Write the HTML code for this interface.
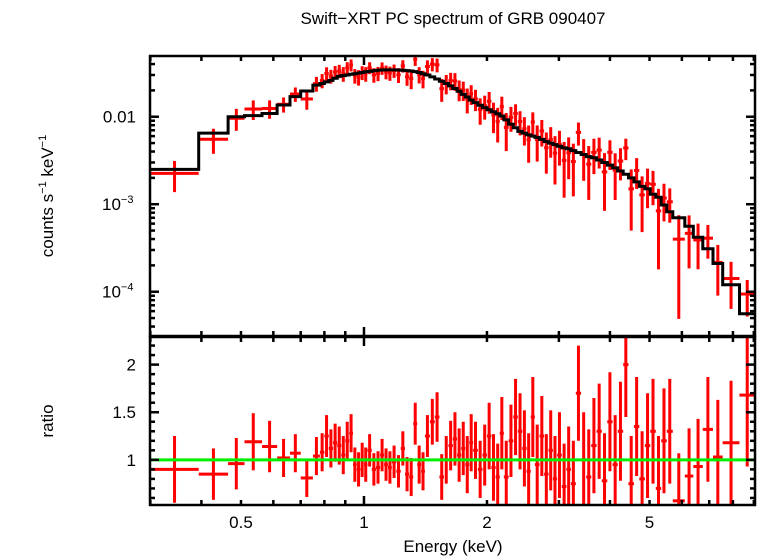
<!DOCTYPE html>
<html><head><meta charset="utf-8"><style>
html,body{margin:0;padding:0;background:#fff;}
svg{display:block;font-family:"Liberation Sans",sans-serif;}
</style></head><body>
<svg id="chart" width="758" height="556" viewBox="0 0 758 556" xmlns="http://www.w3.org/2000/svg">
<defs>
<clipPath id="clipTop"><rect x="150" y="56" width="605" height="280"/></clipPath>
<clipPath id="clipBot"><rect x="150" y="337" width="605" height="168"/></clipPath>
</defs>
<text x="453" y="24" font-size="17" text-anchor="middle">Swift−XRT PC spectrum of GRB 090407</text>
<text transform="translate(53,196) rotate(-90)" font-size="17" text-anchor="middle">counts s<tspan font-size="11" dy="-7">−1</tspan><tspan dy="7"> keV</tspan><tspan font-size="11" dy="-7">−1</tspan></text>
<text transform="translate(53,421) rotate(-90)" font-size="17" text-anchor="middle">ratio</text>
<text x="453" y="552" font-size="17" text-anchor="middle">Energy (keV)</text>
<g id="gTop" clip-path="url(#clipTop)"></g>
<g id="gBot" clip-path="url(#clipBot)"></g>
<g id="gAxes"></g>
</svg>
<script>
// bin edges (keV)
const binEdges = [0.30,0.394,0.465,0.51,0.563,0.613,0.659,0.70,0.75,
0.78,0.80,0.82,0.84,0.86,0.88,0.90,0.92,0.94,0.96,0.98,
1.00,1.02,1.045,1.07,1.095,1.12,1.145,1.17,1.20,
1.23,1.26,1.29,1.32,1.35,1.38,1.41,1.45,1.49,1.53,
1.57,1.61,1.65,1.69,1.73,1.77,1.81,1.85,1.90,1.95,
2.00,2.05,2.10,2.15,2.20,2.26,2.32,2.38,2.44,2.50,
2.56,2.62,2.69,2.76,2.83,2.90,2.97,3.05,3.13,3.21,
3.30,3.40,3.50,3.60,3.71,3.82,3.94,4.06,4.18,4.31,
4.44,4.58,4.72,4.87,5.02,5.18,5.34,5.51,5.70,
6.10,6.40,6.75,7.15,7.55,8.30,9.06];
// model counts per bin (counts/s/keV)
const modelValues = [0.0025,0.0065,0.0100,0.0103,0.0109,0.0136,0.017,0.0197,0.023,
0.024,0.025,0.026,0.0275,0.029,0.0295,0.030,0.0305,0.031,0.0315,0.032,
0.0326,0.033,0.0335,0.034,0.0342,0.0343,0.0343,0.0343,0.0342,
0.034,0.0337,0.0333,0.0328,0.032,0.031,0.030,0.0285,0.027,0.0255,
0.024,0.0225,0.021,0.0195,0.018,0.0168,0.0155,0.0145,0.0135,0.0127,
0.012,0.0114,0.0108,0.0102,0.0092,0.0082,0.0075,0.0068,0.0065,0.0062,
0.0060,0.0058,0.0055,0.0052,0.0050,0.0048,0.0046,0.0044,0.0043,0.0041,
0.0039,0.0037,0.0035,0.0034,0.0032,0.0030,0.0028,0.0026,0.0024,0.0022,
0.0020,0.0018,0.0016,0.0015,0.0013,0.0012,0.00098,0.00082,
0.00070,0.00056,0.00042,0.00031,0.00021,0.00012,0.000056];
// data/model ratio per bin
const ratioValues = [0.90,0.85,0.96,1.19,1.14,1.02,1.07,0.81,1.04,
1.08,1.25,1.12,1.18,1.15,1.05,1.2,1.28,0.95,0.9,1.0,
0.95,1.1,0.9,0.92,1.05,0.95,0.92,0.98,0.88,
1.12,0.85,0.82,1.38,0.95,0.88,1.25,1.4,1.45,0.82,
1.0,1.15,1.22,1.05,1.12,0.95,1.18,1.1,0.9,1.05,
1.25,0.92,0.82,1.28,0.82,1.2,1.45,1.3,1.12,0.88,
1.45,0.95,1.25,0.85,1.1,0.8,1.05,0.72,0.9,0.75,
1.7,1.0,0.82,1.15,1.3,0.78,1.4,0.95,1.3,2.0,
0.75,1.35,0.8,1.15,1.3,0.7,1.2,1.3,
0.57,0.83,0.93,1.32,1.03,1.18,1.68];
// ratio 1-sigma errors
const ratioErrors = [0.35,0.27,0.27,0.30,0.27,0.2,0.2,0.2,0.2,
0.2,0.22,0.2,0.2,0.2,0.2,0.2,0.2,0.18,0.18,0.18,
0.18,0.17,0.17,0.17,0.17,0.17,0.17,0.17,0.17,
0.18,0.18,0.2,0.22,0.2,0.2,0.22,0.24,0.26,0.24,
0.25,0.26,0.28,0.28,0.28,0.3,0.3,0.3,0.3,0.32,
0.35,0.35,0.35,0.38,0.38,0.38,0.4,0.4,0.4,0.4,
0.42,0.42,0.42,0.42,0.42,0.45,0.45,0.45,0.45,0.45,
0.5,0.5,0.5,0.5,0.5,0.5,0.52,0.52,0.52,0.55,
0.5,0.52,0.5,0.55,0.55,0.55,0.55,0.55,
0.5,0.5,0.5,0.55,0.6,0.65,0.75];
const xTickLabels = ["0.5","1","2","5"];
const xTickValues = [0.5,1,2,5];
const ratioTickLabels = ["1","1.5","2"];
const ratioTickValues = [1,1.5,2];

const NS="http://www.w3.org/2000/svg";
const L=150,R=755,TT=56,TB=336,BT=337,BB=505;
const EMIN=0.2994,EMAX=9.06;
function xs(e){return L+(Math.log10(e)-Math.log10(EMIN))/(Math.log10(EMAX)-Math.log10(EMIN))*(R-L);}
const LYMAX=-1.306,LYMIN=-4.506;
function ys(v){return TT+(LYMAX-Math.log10(v))/(LYMAX-LYMIN)*(TB-TT);}
const RMAX=2.29,RMIN=0.526;
function yr(r){return BT+(RMAX-r)/(RMAX-RMIN)*(BB-BT);}
function mk(tag,attrs,parent){const e=document.createElementNS(NS,tag);for(const k in attrs)e.setAttribute(k,attrs[k]);parent.appendChild(e);return e;}
const gTop=document.getElementById('gTop'),gBot=document.getElementById('gBot'),gAx=document.getElementById('gAxes');

let d="";
for(let i=0;i<modelValues.length;i++){
  const x0=xs(binEdges[i]),x1=xs(binEdges[i+1]),y=ys(modelValues[i]);
  d+=(i===0?"M":"L")+x0.toFixed(1)+","+y.toFixed(1)+"L"+x1.toFixed(1)+","+y.toFixed(1);
}
for(let i=0;i<ratioValues.length;i++){
  const e0=binEdges[i],e1=binEdges[i+1],ec=Math.sqrt(e0*e1);
  const x0=xs(e0),x1=xs(e1),xc=xs(ec);
  const cv=modelValues[i]*ratioValues[i];
  const lo=Math.max(modelValues[i]*(ratioValues[i]-ratioErrors[i]),1e-7);
  const hi=modelValues[i]*(ratioValues[i]+ratioErrors[i]);
  const g=mk('g',{},gTop);
  
  
  mk('line',{x1:x0,x2:x1,y1:ys(cv),y2:ys(cv),stroke:'#ff0000','stroke-width':3},g);
  mk('line',{x1:xc,x2:xc,y1:ys(lo),y2:ys(hi),stroke:'#ff0000','stroke-width':3},g);
  const gb=mk('g',{},gBot);
  
  
  mk('line',{x1:x0,x2:x1,y1:yr(ratioValues[i]),y2:yr(ratioValues[i]),stroke:'#ff0000','stroke-width':3},gb);
  mk('line',{x1:xc,x2:xc,y1:yr(ratioValues[i]-ratioErrors[i]),y2:yr(ratioValues[i]+ratioErrors[i]),stroke:'#ff0000','stroke-width':3},gb);
}
const ml=mk('path',{d:d,fill:'none',stroke:'#000','stroke-width':3},gTop);


const gl=mk('line',{x1:L,x2:R,y1:yr(1),y2:yr(1),stroke:'#00ee00','stroke-width':3},gBot);



const f1=mk('rect',{x:L,y:TT,width:R-L,height:TB-TT,fill:'none',stroke:'#000','stroke-width':2.5},gAx);


const f2=mk('rect',{x:L,y:BT,width:R-L,height:BB-BT,fill:'none',stroke:'#000','stroke-width':2.5},gAx);



function tick(x1,y1,x2,y2){mk('line',{x1:x1,y1:y1,x2:x2,y2:y2,stroke:'#000','stroke-width':2.5},gAx);}
for(let dec=0.1;dec<10;dec*=10){
  for(let m=1;m<10;m++){
    const e=dec*m; if(e<EMIN||e>EMAX) continue;
    const x=xs(e); const major=(m===1);
    const len=major?9:5;
    [[TT,1],[TB,-1],[BT,1],[BB,-1]].forEach(([y,s])=>tick(x,y,x,y+s*len));
  }
}
for(let p=-5;p<=-1;p++){
  for(let m=1;m<10;m++){
    const v=m*Math.pow(10,p); const y=ys(v); if(y<TT||y>TB) continue;
    const len=m===1?9:5; tick(L,y,L+len,y); tick(R,y,R-len,y);
  }
}
for(let k=6;k<=22;k++){
  const r=k/10; const y=yr(r); const major=(k%5===0); const len=major?9:5;
  tick(L,y,L+len,y); tick(R,y,R-len,y);
}
function txt(s,x,y,anchor,name){const t=mk('text',{x:x,y:y,'font-size':17,'text-anchor':anchor},gAx);t.textContent=s;return t;}
for(let i=0;i<xTickLabels.length;i++){ txt(xTickLabels[i],xs(xTickValues[i]),528,'middle','x-tick-label'); }
for(let i=0;i<ratioTickLabels.length;i++){ txt(ratioTickLabels[i],136,yr(ratioTickValues[i])+6,'end','ratio-tick-label'); }
txt("0.01",136,ys(0.01)+6,'end','y-tick-label');
const t3=txt("10",102,ys(0.001)+6,'start','y-tick-label');
const s3=mk('tspan',{'font-size':11,dy:-7},t3); s3.textContent="−3";
const t4=txt("10",102,ys(0.0001)+6,'start','y-tick-label');
const s4=mk('tspan',{'font-size':11,dy:-7},t4); s4.textContent="−4";
</script>
</body></html>
